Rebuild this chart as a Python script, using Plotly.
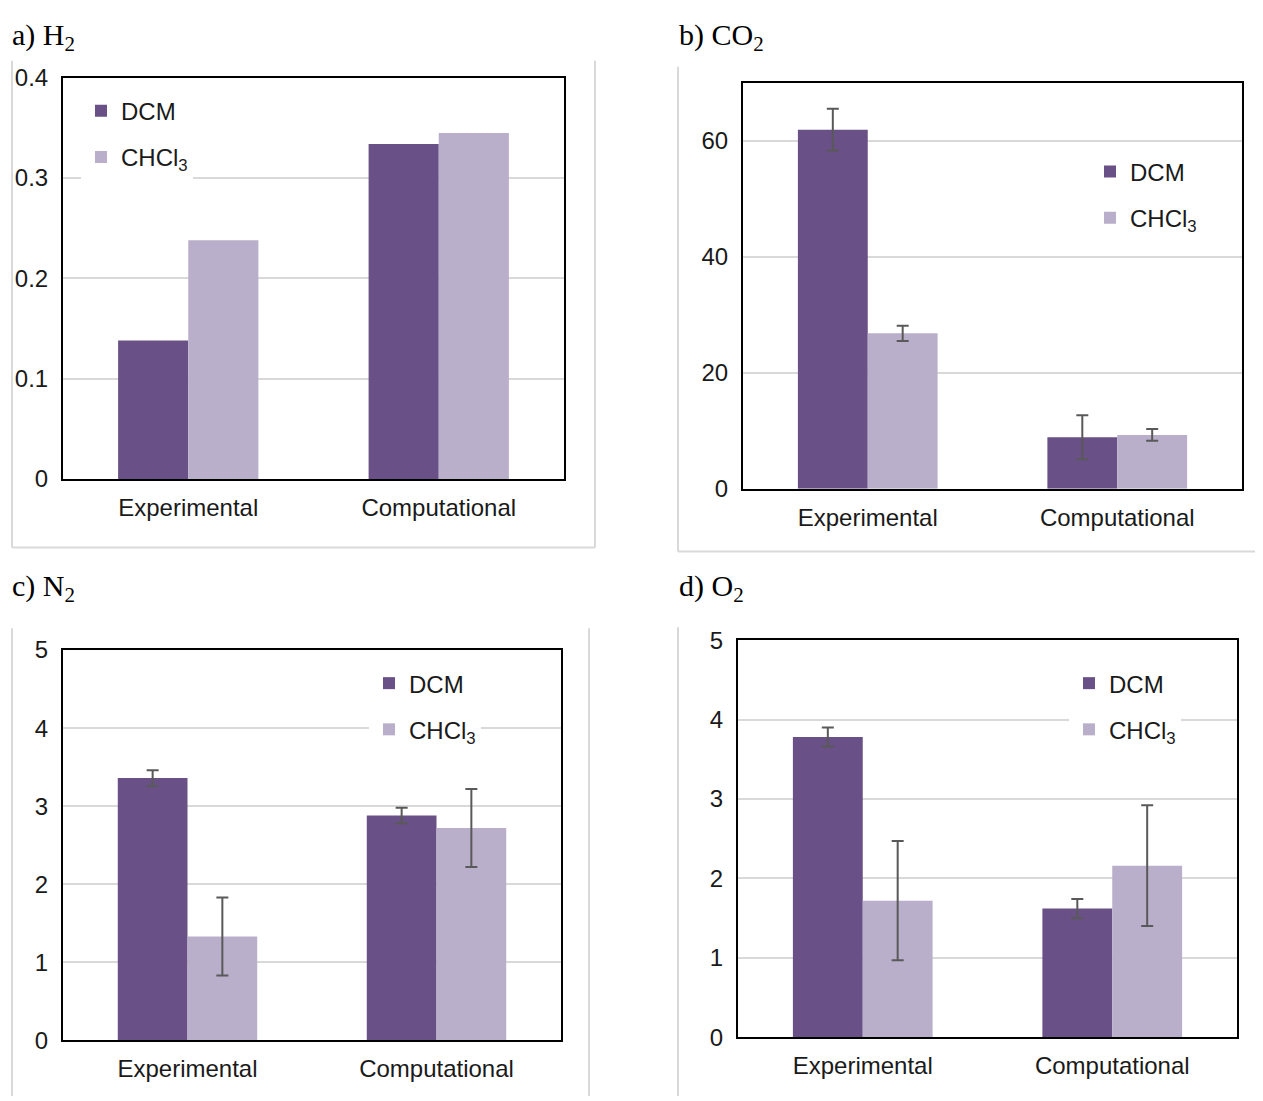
import plotly.graph_objects as go

W, H = 1263, 1101

categories = ["Experimental", "Computational"]

h2_dcm = [0.138, 0.334]
h2_chcl3 = [0.238, 0.345]

co2_dcm = [61.9, 8.9]
co2_dcm_err = [3.6, 3.8]
co2_chcl3 = [26.8, 9.3]
co2_chcl3_err = [1.3, 1.0]

n2_dcm = [3.36, 2.88]
n2_dcm_err = [0.10, 0.10]
n2_chcl3 = [1.33, 2.72]
n2_chcl3_err = [0.50, 0.50]

o2_dcm = [3.78, 1.62]
o2_dcm_err = [0.12, 0.12]
o2_chcl3 = [1.72, 2.16]
o2_chcl3_err = [0.75, 0.76]

panel_titles = ["a) H<sub>2</sub>", "b) CO<sub>2</sub>", "c) N<sub>2</sub>", "d) O<sub>2</sub>"]
series_names = ["DCM", "CHCl<sub>3</sub>"]

DARK = "#695086"
LIGHT = "#B9AFCA"
ERR = "#595959"
GRID = "#D9D9D9"
TXT = "#1a1a1a"
FONT = "Liberation Sans, Arial, sans-serif"

# empirical page offset compensation (target screen px -> paper coords)
OX, OY, SY = 8, 19, 0.98


def X(x):
    return (x - OX) / W


def Y(y):
    return 1 - ((y - OY) / SY) / H


# plot boxes in screen pixels: (left, right, top, bottom)
boxes = [(63, 564, 75, 478), (743, 1242, 80, 488), (63, 561, 650, 1042), (738, 1237, 640, 1039)]
# legend anchor (left, top) in screen pixels
legend_pos = [(81, 86), (1090, 147), (369, 661), (1069, 661)]
title_pos = [(10, 22), (677, 22), (10, 588), (677, 588)]

panels = [
    (h2_dcm, None, h2_chcl3, None),
    (co2_dcm, co2_dcm_err, co2_chcl3, co2_chcl3_err),
    (n2_dcm, n2_dcm_err, n2_chcl3, n2_chcl3_err),
    (o2_dcm, o2_dcm_err, o2_chcl3, o2_chcl3_err),
]

yranges = [[0, 0.4], [0, 70], [0, 5], [0, 5]]
ytickvals = [[0, 0.1, 0.2, 0.3, 0.4], [0, 20, 40, 60], [0, 1, 2, 3, 4, 5], [0, 1, 2, 3, 4, 5]]

fig = go.Figure()
layout = dict(
    width=W, height=H,
    margin=dict(l=0, r=0, t=0, b=0),
    paper_bgcolor="white", plot_bgcolor="white",
    barmode="group", bargap=0.44, bargroupgap=0,
    font=dict(family=FONT, size=24, color=TXT),
    showlegend=True,
)

for i, (d_vals, d_err, c_vals, c_err) in enumerate(panels):
    n = i + 1
    xa = "x" if n == 1 else f"x{n}"
    ya = "y" if n == 1 else f"y{n}"
    lg = "legend" if n == 1 else f"legend{n}"
    for name, vals, err, col in [(series_names[0], d_vals, d_err, DARK), (series_names[1], c_vals, c_err, LIGHT)]:
        kw = {}
        if err is not None:
            kw["error_y"] = dict(type="data", array=err, visible=True, color=ERR, thickness=2, width=6)
        fig.add_trace(go.Bar(
            x=categories, y=vals, name=name, marker=dict(color=col, line=dict(width=0)),
            xaxis=xa, yaxis=ya, legend=lg, legendgroup=f"{n}-{name}", **kw))
    l, r, t, b = boxes[i]
    xkey = "xaxis" if n == 1 else f"xaxis{n}"
    ykey = "yaxis" if n == 1 else f"yaxis{n}"
    layout[xkey] = dict(
        domain=[X(l), X(r)], anchor=ya, showline=True, linecolor="black", linewidth=2,
        mirror=True, ticks="", showgrid=False, ticklabelstandoff=6,
        tickfont=dict(family=FONT, size=24, color=TXT))
    layout[ykey] = dict(
        domain=[Y(b), Y(t)], anchor=xa, range=yranges[i], tickvals=ytickvals[i],
        showline=True, linecolor="black", linewidth=2, mirror=True, ticks="",
        showgrid=True, gridcolor=GRID, gridwidth=2, zeroline=False, ticklabelstandoff=8,
        tickfont=dict(family=FONT, size=24, color=TXT))
    lx, ly = legend_pos[i]
    layout[lg] = dict(
        x=X(lx), y=Y(ly), xanchor="left", yanchor="top", bgcolor="white",
        traceorder="grouped", tracegroupgap=12,
        font=dict(family=FONT, size=24, color=TXT))

fig.update_layout(**layout)

annotations = []
for i, (tx, ty) in enumerate(title_pos):
    top = ty < 100
    annotations.append(dict(
        text=panel_titles[i], x=X(tx), y=min(Y(ty), 1.0), xref="paper", yref="paper",
        xanchor="left", yanchor="top" if top else "middle", yshift=9 if top else 0, showarrow=False,
        font=dict(family="Liberation Serif, Times New Roman, serif", size=30, color="black")))
fig.update_layout(annotations=annotations)

frame_lines = [
    (12, 58, 12, 547), (12, 547, 595, 547), (595, 58, 595, 547),
    (678, 64, 678, 551), (678, 551, 1263, 551),
    (12, 628, 12, 1101), (589, 628, 589, 1101),
    (678, 627, 678, 1101), (1262, 627, 1262, 1101),
]
shapes = []
for x0, y0, x1, y1 in frame_lines:
    shapes.append(dict(type="line", xref="paper", yref="paper", x0=X(x0), y0=Y(y0), x1=X(x1), y1=max(Y(y1), 0),
                       line=dict(color=GRID, width=2), layer="below"))
fig.update_layout(shapes=shapes)

fig.write_html("out.html")
